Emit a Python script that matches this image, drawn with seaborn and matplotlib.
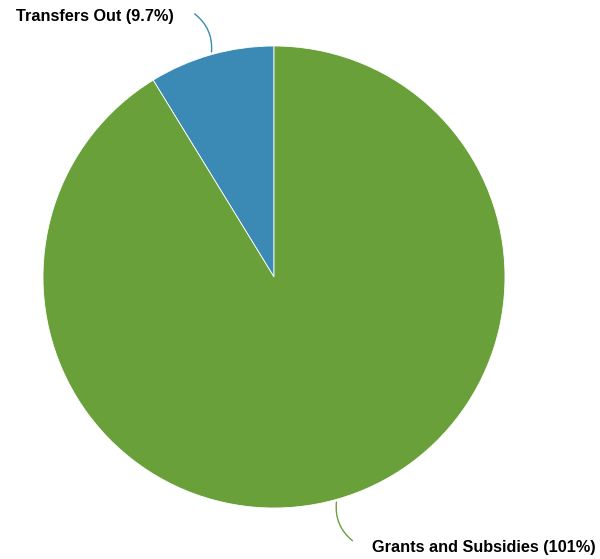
import numpy as np
import seaborn as sns
import matplotlib.pyplot as plt

# values shown as percent labels in the chart
labels = ['Transfers Out', 'Grants and Subsidies']
values = [9.7, 101]
pct_text = ['9.7%', '101%']
colors = ['#3b8ab5', '#69a03a']

sns.set_style('white')
plt.rcParams['font.family'] = ['Liberation Sans', 'DejaVu Sans']

fig = plt.figure(figsize=(6, 5.59), dpi=100)
ax = fig.add_axes([43 / 600, (559 - 277 - 231) / 559, 462 / 600, 462 / 559])

wedges, _ = ax.pie(values, colors=colors, startangle=90, counterclock=True,
                   wedgeprops={'edgecolor': 'white', 'linewidth': 0.6})
ax.set_xlim(-1, 1)
ax.set_ylim(-1, 1)
ax.set_aspect('auto')

# label layout: (text anchor x, y, ha)
layout = [(-0.433, 1.126, 'right'), (0.424, -1.169, 'left')]
for w, lab, pct, col, (tx, ty, ha) in zip(wedges, labels, pct_text, colors, layout):
    mid = np.deg2rad((w.theta1 + w.theta2) / 2)
    x0, y0 = np.cos(mid), np.sin(mid)
    x1 = tx + (0.08 if ha == 'right' else -0.075)
    y1 = ty + 0.02
    ax.annotate('', xy=(x0, y0), xytext=(x1, y1),
                arrowprops=dict(arrowstyle='-', color=col, lw=1,
                                connectionstyle='arc3,rad=-0.3'),
                annotation_clip=False)
    ax.text(tx, ty, f'{lab} ({pct})', ha=ha, va='center', fontsize=11.7,
            fontweight='bold', color='black')

fig.savefig('out.png', dpi=100)
